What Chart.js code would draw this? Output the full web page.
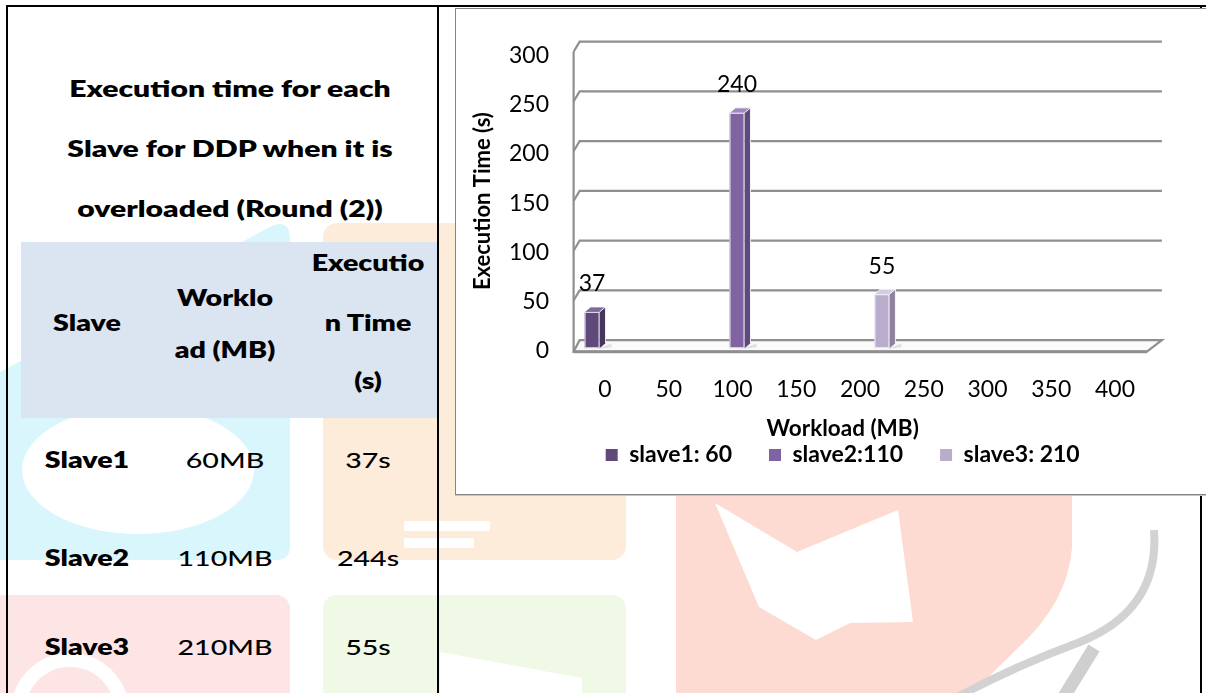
<!DOCTYPE html>
<html>
<head>
<meta charset="utf-8">
<script src="https://cdn.jsdelivr.net/npm/chart.js@4.4.1/dist/chart.umd.min.js"></script>
<style>
  html, body { margin: 0; padding: 0; background: #fff; }
  body { width: 1206px; height: 693px; position: relative; overflow: hidden;
         font-family: Lato, "Open Sans", sans-serif; color: #000; }
  .wm { position: absolute; left: 0; top: 0; z-index: 0; }
  .rule { position: absolute; background: #000; z-index: 3; }
  .band { position: absolute; left: 21px; top: 242px; width: 417px; height: 176px;
          background: #DBE5F1; z-index: 1; }
  .t { position: absolute; white-space: nowrap; z-index: 2; line-height: 1;
       font-size: 22px; font-weight: 500; transform: translate(-50%, -50%) scaleX(1.3); }
  .t.b { font-weight: 800; }
  .t.h { font-size: 23px; transform: translate(-50%, -50%) scaleX(1.31); }
  .box { position: absolute; left: 455px; top: 8px; width: 770px; height: 485px;
         border: 1px solid #858585; background: #fff; z-index: 4;
         box-shadow: 0 1px 0 #c4c4c4; }
  #chart { position: absolute; left: 456px; top: 9px; z-index: 5; }
</style>
</head>
<body>

<!-- faint logo tiles printed behind the page content -->
<svg class="wm" width="1206" height="693" viewBox="0 0 1206 693">
  <path d="M0,372 L268,228 Q290,216 290,240 L290,546 Q290,560 276,560 L0,560 Z" fill="#D8F6FB"/>
  <ellipse cx="138" cy="470" rx="116" ry="64" fill="#fff"/>
  <rect x="323" y="223" width="303" height="337" rx="14" fill="#FEECDB"/>
  <rect x="404" y="521" width="86" height="10" fill="#fff"/>
  <rect x="404" y="538" width="70" height="10" fill="#fff"/>
  <rect x="-20" y="595" width="310" height="130" rx="14" fill="#FDE5E5"/>
  <circle cx="70" cy="712" r="52" fill="none" stroke="#fff" stroke-width="14"/>
  <rect x="323" y="595" width="303" height="130" rx="14" fill="#EFF9E5"/>
  <path d="M440,652 L582,678 L582,700 L440,700 Z" fill="#fff"/>
  <path d="M676,470 L1072,470 L1072,548 Q1068,602 1018,648 L972,693 L676,693 Z" fill="#FDDBD3"/>
  <path d="M715,503 L797,552 L898,510 L913,622 L850,623 L816,640 L759,607 Z" fill="#fff"/>
  <path d="M1154,530 Q1160,610 1080,642 Q1010,668 952,700" fill="none" stroke="#D2D2D2" stroke-width="8"/>
  <path d="M1094,648 L1062,700" stroke="#CFCFCF" stroke-width="13"/>
</svg>

<!-- page rules -->
<div class="rule" style="left:7px;top:5px;width:1199px;height:2px"></div>
<div class="rule" style="left:6px;top:5px;width:2px;height:688px"></div>
<div class="rule" style="left:437px;top:5px;width:2px;height:688px"></div>
<div class="rule" style="left:1200px;top:5px;width:2px;height:688px"></div>

<div class="band"></div>
<div id="table"></div>

<div class="box"></div>
<canvas id="chart" width="754" height="484"></canvas>

<script>
// ---- table data ----
const tableTitle = ['Execution time for each', 'Slave for DDP when it is', 'overloaded (Round (2))'];
const slaveNames = ['Slave1', 'Slave2', 'Slave3'];
const workloadsMB = [60, 110, 210];
const execTimesS = [37, 244, 55];

// ---- chart data ----
const workloadTicks = ['0', '50', '100', '150', '200', '250', '300', '350', '400'];
const seriesNames = ['slave1: 60', 'slave2:110', 'slave3: 210'];
const slave1Time = [37, null, null, null, null, null, null, null, null];
const slave2Time = [null, null, 240, null, null, null, null, null, null];
const slave3Time = [null, null, null, null, 55, null, null, null, null];
const timeTicks = [0, 50, 100, 150, 200, 250, 300];

// bar faces: front, side, top
const barStyles = [
  { front: '#604A7B', side: '#47365C', top: '#7E6A9B' },
  { front: '#8064A2', side: '#5E4A7A', top: '#9F89BC' },
  { front: '#B9ADCD', side: '#8E829F', top: '#D4CCE0' }
];

// ---- table text ----
function addText(text, x, y, cls) {
  const d = document.createElement('div');
  d.className = 't ' + cls;
  d.textContent = text;
  d.style.left = x + 'px';
  d.style.top = y + 'px';
  document.getElementById('table').appendChild(d);
}
const titleRows = [88, 148, 208];
tableTitle.forEach((s, i) => addText(s, 230, titleRows[i], 'b h'));

const colX = [87, 225, 368];
addText('Slave', colX[0], 323, 'b');
addText('Worklo', colX[1], 298, 'b');
addText('ad (MB)', colX[1], 350, 'b');
addText('Executio', colX[2], 263, 'b');
addText('n Time', colX[2], 323, 'b');
addText('(s)', colX[2], 381, 'b');

const rowY = [460, 558, 647];
slaveNames.forEach((name, i) => {
  addText(name, colX[0], rowY[i], 'b');
  addText(workloadsMB[i] + 'MB', colX[1], rowY[i], '');
  addText(execTimesS[i] + 's', colX[2], rowY[i], '');
});

// ---- 3-D look: back wall, floor and bar side/top faces ----
const depthPlugin = {
  id: 'depth',
  beforeDatasetsDraw(chart) {
    const { ctx, chartArea: a, scales: { y } } = chart;
    const backY = p => a.bottom - 8 + (p - a.bottom) * 1.0146;
    const bl = a.left + 2, br = a.right + 10.5;
    const fl = a.left - 4, fr = a.right - 4.5;
    const floorFront = a.bottom + 3.5;
    const slant = 10;
    ctx.save();
    ctx.strokeStyle = '#8F8F8F';
    ctx.lineWidth = 2.2;
    // floor slab
    const y0 = backY(y.getPixelForValue(0));
    ctx.beginPath();
    ctx.moveTo(fl, floorFront);
    ctx.lineTo(bl, y0);
    ctx.lineTo(br, y0);
    ctx.lineTo(fr, floorFront);
    ctx.closePath();
    ctx.fillStyle = '#fafafa';
    ctx.fill();
    ctx.stroke();
    ctx.beginPath();
    ctx.lineWidth = 3;
    ctx.moveTo(fl, floorFront);
    ctx.lineTo(fr, floorFront);
    ctx.stroke();
    ctx.lineWidth = 2.2;
    // gridlines on the back wall, joined to the side wall
    y.ticks.forEach(t => {
      if (t.value === y.min) return;
      const yb = backY(y.getPixelForValue(t.value));
      ctx.beginPath();
      ctx.moveTo(fl, yb + slant);
      ctx.lineTo(bl, yb);
      ctx.lineTo(br, yb);
      ctx.stroke();
    });
    // side wall edge
    ctx.beginPath();
    ctx.moveTo(fl, backY(y.getPixelForValue(y.max)) + slant);
    ctx.lineTo(fl, floorFront);
    ctx.stroke();
    ctx.restore();
  },
  afterDatasetsDraw(chart) {
    const { ctx } = chart;
    const d = 6, e = 5;
    ctx.save();
    chart.data.datasets.forEach((ds, di) => {
      const meta = chart.getDatasetMeta(di);
      const st = barStyles[di];
      meta.data.forEach((el, i) => {
        const v = ds.data[i];
        if (v === null || v === undefined) return;
        const { x, y: top, base, width } = el.getProps(['x', 'y', 'base', 'width'], true);
        const L = x - width / 2, R = x + width / 2;
        // floor shadow
        ctx.fillStyle = 'rgba(0,0,0,0.10)';
        ctx.beginPath();
        ctx.moveTo(R, base);
        ctx.lineTo(R + 12, base - 5);
        ctx.lineTo(R + 12, base - 1);
        ctx.lineTo(L + 4, base + 2);
        ctx.closePath();
        ctx.fill();
        // side face
        ctx.fillStyle = st.side;
        ctx.beginPath();
        ctx.moveTo(R, top);
        ctx.lineTo(R + d, top - e);
        ctx.lineTo(R + d, base - e);
        ctx.lineTo(R, base);
        ctx.closePath();
        ctx.fill();
        // top face
        ctx.fillStyle = st.top;
        ctx.beginPath();
        ctx.moveTo(L, top);
        ctx.lineTo(L + d, top - e);
        ctx.lineTo(R + d, top - e);
        ctx.lineTo(R, top);
        ctx.closePath();
        ctx.fill();
        // light edges
        ctx.strokeStyle = 'rgba(255,255,255,0.85)';
        ctx.lineWidth = 1;
        ctx.strokeRect(L + 0.5, top + 0.5, width - 1, base - top - 1);
        ctx.beginPath();
        ctx.moveTo(L, top);
        ctx.lineTo(L + d, top - e);
        ctx.lineTo(R + d, top - e);
        ctx.lineTo(R + d, base - e);
        ctx.moveTo(R, top);
        ctx.lineTo(R + d, top - e);
        ctx.stroke();
        // value label
        ctx.fillStyle = '#000';
        ctx.font = '23px Lato';
        ctx.textAlign = 'center';
        ctx.textBaseline = 'middle';
        ctx.fillText(String(v), x, top - 28);
      });
    });
    ctx.restore();
  }
};

function build() {
  Chart.defaults.font.family = 'Lato';
  new Chart(document.getElementById('chart'), {
    type: 'bar',
    data: {
      labels: workloadTicks,
      datasets: [
        { label: seriesNames[0], data: slave1Time, backgroundColor: barStyles[0].front },
        { label: seriesNames[1], data: slave2Time, backgroundColor: barStyles[1].front },
        { label: seriesNames[2], data: slave3Time, backgroundColor: barStyles[2].front }
      ]
    },
    options: {
      responsive: false,
      animation: false,
      layout: { padding: { left: 20, right: 0.6, top: 45, bottom: 16.5 } },
      datasets: { bar: { categoryPercentage: 0.82, barPercentage: 0.86, borderWidth: 0 } },
      scales: {
        x: {
          grid: { display: false },
          border: { display: false },
          ticks: { font: { size: 23 }, color: '#000', padding: 19.2, labelOffset: -4.5,
                   autoSkip: false, maxRotation: 0 },
          afterFit: s => { s.height = 65; }
        },
        y: {
          min: timeTicks[0],
          max: timeTicks[timeTicks.length - 1],
          grid: { display: false },
          border: { display: false },
          ticks: { stepSize: timeTicks[1] - timeTicks[0], font: { size: 23 }, color: '#000',
                   padding: 20.6, labelOffset: 2 },
          title: { display: true, text: 'Execution Time (s)', color: '#000',
                   font: { size: 22, weight: 'bold' }, padding: { top: -6.2, bottom: 0 } },
          afterFit: s => { s.width = 101.6; }
        },
        // empty margin on the right of the plot so the legend can sit off-centre
        yRight: {
          position: 'right',
          grid: { display: false },
          border: { display: false },
          ticks: { display: false },
          afterFit: s => { s.width = 58; }
        }
      },
      plugins: {
        legend: {
          position: 'bottom',
          title: { display: true, text: 'Workload (MB)', color: '#000',
                   font: { size: 22.5, weight: 'bold' }, padding: { top: 3.8, bottom: -37.5 } },
          labels: { boxWidth: 12, boxHeight: 12, padding: 37, color: '#000',
                    font: { size: 23, weight: 'bold' } }
        },
        tooltip: { enabled: false }
      }
    },
    plugins: [depthPlugin]
  });
}

let started = false;
function go() { if (started) return; started = true; build(); }
if (document.fonts && document.fonts.load) {
  Promise.all([document.fonts.load('23px Lato'), document.fonts.load('bold 23px Lato')]).then(go, go);
  setTimeout(go, 1500);
} else {
  go();
}
</script>
</body>
</html>
